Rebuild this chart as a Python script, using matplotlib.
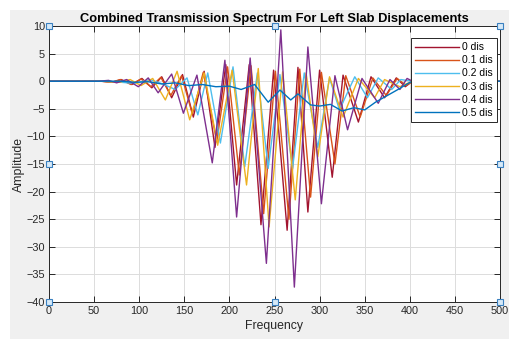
import matplotlib
matplotlib.use("Agg")
import matplotlib.pyplot as plt
from matplotlib.patches import Rectangle

plt.rcParams['font.family'] = ['Liberation Sans', 'DejaVu Sans']

# extrema (frequency, amplitude)
freq_0 = [0, 58, 70, 80, 92, 103, 114, 125, 136, 148, 160, 172, 184, 196, 208, 222, 235, 249,
          264, 276, 287, 300, 314, 326, 343, 357, 372, 385, 395, 403, 500]
amp_0 = [0, 0, -0.2, 0.3, -0.6, 0.5, -1.2, 0.8, -3.0, 1.2, -6.5, 1.8, -12.0, 3.0, -18.8, 3.0, -26.0, 2.0,
         -27.0, 2.5, -23.7, 2.0, -17.4, 1.1, -7.4, 0.8, -3.0, 0.6, -1.0, 0, 0]

freq_01 = [0, 57, 69, 79, 91, 102, 113, 124, 135, 147, 159, 171, 186, 198, 211, 224, 238, 251,
           266, 278, 290, 302, 317, 329, 345, 359, 374, 386, 396, 403, 500]
amp_01 = [0, 0, -0.2, 0.3, -0.6, 0.4, -1.0, 0.7, -2.6, 1.0, -6.0, 1.6, -11.0, 2.6, -17.0, 2.8, -24.0, 1.8,
          -25.0, 2.2, -21.0, 1.6, -15.0, 1.0, -6.5, 0.6, -2.6, 0.5, -0.8, 0, 0]

freq_02 = [0, 60, 80, 95, 112, 126, 140, 153, 165, 176, 190, 204, 217, 231, 243, 256, 270, 283,
           298, 311, 322, 339, 353, 365, 380, 390, 403, 500]
amp_02 = [0, 0, -0.2, -0.4, 0.3, -0.5, -1.5, 0.6, -6.1, 1.5, -11.2, 2.6, -15.5, 1.5, -15.8, 1.2, -15.8, 1.5,
          -12.0, 0.6, -5.2, 0.8, -3.0, 0.6, -1.5, 0.3, 0, 0]

freq_03 = [0, 60, 78, 90, 102, 115, 129, 142, 156, 172, 187, 203, 219, 232, 244, 259, 273, 285,
           298, 311, 326, 343, 361, 372, 389, 403, 500]
amp_03 = [0, 0, -0.2, 0.3, -0.8, 0.5, -3.4, 1.8, -7.0, 1.5, -11.6, 2.0, -18.8, 2.3, -26.4, 1.7, -21.5, 1.5,
          -13.7, 0.8, -6.5, 0.5, -3.0, 0.3, -1.0, 0, 0]

freq_04 = [0, 55, 66, 75, 86, 99, 110, 121, 136, 149, 164, 181, 195, 208, 223, 241, 257, 272,
           287, 302, 317, 331, 347, 365, 378, 389, 397, 403, 500]
amp_04 = [0, 0, 0.15, -0.3, 0.3, -1.0, 0.6, -2.1, 1.3, -5.8, 1.1, -14.8, 3.8, -24.6, 4.2, -33.0, 9.3, -37.3,
          6.2, -22.2, 1.0, -8.8, 0.5, -4.0, 0.3, -1.5, 0.5, 0, 0]

freq_05 = [0, 80, 95, 110, 125, 140, 155, 170, 185, 200, 213, 228, 243, 256, 268, 276, 290, 300,
           312, 325, 338, 350, 362, 375, 388, 398, 403, 500]
amp_05 = [0, 0, -0.2, -0.1, -0.5, -0.3, -0.8, -0.6, -1.0, -0.9, -1.5, -0.6, -3.8, -1.6, -3.4, -2.3, -4.3, -4.5,
          -4.2, -5.4, -4.8, -5.2, -3.8, -2.6, -1.4, -0.4, 0, 0]

labels = ['0 dis', '0.1 dis', '0.2 dis', '0.3 dis', '0.4 dis', '0.5 dis']
colors = ['#A2142F', '#D95319', '#4DBEEE', '#EDB120', '#7E2F8E', '#0072BD']

fig = plt.figure(figsize=(5.1, 3.39), dpi=100, facecolor='#F0F0F0')
# white screenshot margins
fig.patches.append(Rectangle((0, 0), 10 / 510, 1, transform=fig.transFigure,
                             facecolor='white', edgecolor='none', zorder=-1))
fig.patches.append(Rectangle((0, 1 - 10 / 339), 1, 10 / 339, transform=fig.transFigure,
                             facecolor='white', edgecolor='none', zorder=-1))

ax = fig.add_axes([49 / 510, 1 - 302 / 339, 451 / 510, 276 / 339])
ax.set_facecolor('white')

series = [(freq_0, amp_0), (freq_01, amp_01), (freq_02, amp_02),
          (freq_03, amp_03), (freq_04, amp_04), (freq_05, amp_05)]
for (f, a), lab, c in zip(series, labels, colors):
    ax.plot(f, a, color=c, lw=1.0, label=lab)

ax.set_xlim(0, 500)
ax.set_ylim(-40, 10)
ax.set_xticks(range(0, 501, 50))
ax.set_yticks(range(-40, 11, 5))
ax.grid(True, color='#DCDCDC', lw=0.7)
ax.set_axisbelow(True)
ax.tick_params(direction='in', length=4, width=0.7, colors='#262626', labelsize=7.8,
               top=True, right=True, pad=3)
for s in ax.spines.values():
    s.set_color('#262626')
    s.set_linewidth(0.7)

ax.set_title('Combined Transmission Spectrum For Left Slab Displacements',
             fontsize=9.3, fontweight='bold', color='black', pad=3)
ax.set_xlabel('Frequency', fontsize=8.8, color='#262626', labelpad=3)
ax.set_ylabel('Amplitude', fontsize=8.8, color='#262626', labelpad=1)

leg = ax.legend(loc='upper right', bbox_to_anchor=(0.9933, 0.9565), fontsize=7.5,
                fancybox=False, framealpha=1, edgecolor='#262626', handlelength=4.2,
                handletextpad=0.3, borderpad=0.4, labelspacing=0.3, borderaxespad=0)
leg.get_frame().set_linewidth(0.7)

# edit-mode selection handles
hx = [0, 0.5, 1, 0, 1, 0, 0.5, 1]
hy = [1, 1, 1, 0.5, 0.5, 0, 0, 0]
ax.plot(hx, hy, 's', transform=ax.transAxes, ms=4.5, mfc='#D6E9F8', mec='#3A80C0',
        mew=0.8, clip_on=False, zorder=10)

fig.savefig('out.png', dpi=100, facecolor=fig.get_facecolor())
